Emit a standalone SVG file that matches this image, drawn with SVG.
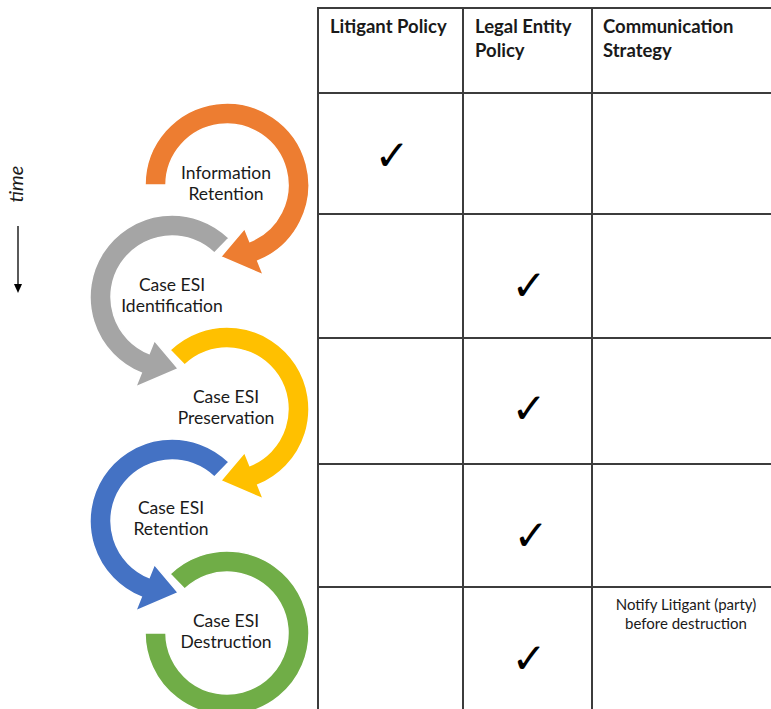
<svg xmlns="http://www.w3.org/2000/svg" width="771" height="709" viewBox="0 0 771 709">
  <style>
    .grid { stroke: #3c3c3c; stroke-width: 2; fill: none; }
    .hdr { font-family: Lato, "Open Sans", sans-serif; font-weight: bold; font-size: 18.5px; fill: #1a1a1a; }
    .lbl { font-family: Lato, "Open Sans", sans-serif; font-size: 17.5px; fill: #1a1a1a; text-anchor: middle; }
    .note { font-family: Lato, "Open Sans", sans-serif; font-size: 15px; fill: #1a1a1a; text-anchor: middle; }
    .tick { font-family: "DejaVu Sans", sans-serif; font-size: 42px; fill: #000; text-anchor: middle; }
    .ring { stroke: #fff; stroke-width: 1.5; }
  </style>
  <defs>
    <!-- block arcs drawn around (0,0): outer r 82, inner r 61, arrowhead flared to r 47..97 -->
    <path id="arcFirst" d="M -82 0 A 82 82 0 1 1 30.72 76.03 L 36.34 89.94 L -6.27 71.73 L 17.61 43.58 L 22.85 56.56 A 61 61 0 1 0 -61 0 Z"/>
    <path id="arcMid" d="M -56.96 -58.98 A 82 82 0 1 1 30.72 76.03 L 36.34 89.94 L -6.27 71.73 L 17.61 43.58 L 22.85 56.56 A 61 61 0 1 0 -42.38 -43.88 Z"/>
    <path id="arcLast" d="M -56.96 -58.98 A 82 82 0 1 1 -82 0 L -61 0 A 61 61 0 1 0 -42.38 -43.88 Z"/>
  </defs>

  <rect width="771" height="709" fill="#fff"/>

  <!-- time axis -->
  <g id="time">
    <text transform="translate(23,184) rotate(-90)" text-anchor="middle" font-family="Lato, sans-serif" font-style="italic" font-size="20" fill="#1a1a1a">time</text>
    <line x1="18" y1="226" x2="18" y2="287" stroke="#000" stroke-width="1.3"/>
    <path d="M14 284 L22 284 L18 293 Z" fill="#000"/>
  </g>

  <!-- process steps -->
  <g id="step-information-retention">
    <use href="#arcFirst" transform="translate(227,185)" fill="#ED7D31" class="ring"/>
    <text class="lbl" x="226" y="179">Information</text>
    <text class="lbl" x="226" y="200">Retention</text>
  </g>
  <g id="step-identification">
    <use href="#arcMid" transform="translate(172,297) scale(-1,1)" fill="#A5A5A5" class="ring"/>
    <text class="lbl" x="172" y="291">Case ESI</text>
    <text class="lbl" x="172" y="312">Identification</text>
  </g>
  <g id="step-preservation">
    <use href="#arcMid" transform="translate(227,409)" fill="#FFC000" class="ring"/>
    <text class="lbl" x="226" y="403">Case ESI</text>
    <text class="lbl" x="226" y="424">Preservation</text>
  </g>
  <g id="step-retention">
    <use href="#arcMid" transform="translate(172,521) scale(-1,1)" fill="#4472C4" class="ring"/>
    <text class="lbl" x="171" y="514">Case ESI</text>
    <text class="lbl" x="171" y="535">Retention</text>
  </g>
  <g id="step-destruction">
    <use href="#arcLast" transform="translate(227,633)" fill="#70AD47" class="ring"/>
    <text class="lbl" x="226" y="627">Case ESI</text>
    <text class="lbl" x="226" y="648">Destruction</text>
  </g>

  <!-- policy table -->
  <g id="table">
    <line class="grid" x1="318" y1="8" x2="771" y2="8"/>
    <line class="grid" x1="318" y1="93" x2="771" y2="93"/>
    <line class="grid" x1="318" y1="214" x2="771" y2="214"/>
    <line class="grid" x1="318" y1="338" x2="771" y2="338"/>
    <line class="grid" x1="318" y1="464" x2="771" y2="464"/>
    <line class="grid" x1="318" y1="587" x2="771" y2="587"/>
    <line class="grid" x1="318" y1="7" x2="318" y2="709"/>
    <line class="grid" x1="463" y1="7" x2="463" y2="709"/>
    <line class="grid" x1="592" y1="7" x2="592" y2="709"/>

    <text class="hdr" x="330" y="33">Litigant Policy</text>
    <text class="hdr" x="475" y="33">Legal Entity</text>
    <text class="hdr" x="475" y="57">Policy</text>
    <text class="hdr" x="603" y="33">Communication</text>
    <text class="hdr" x="603" y="57">Strategy</text>

    <text class="tick" x="392" y="170">✓</text>
    <text class="tick" x="529" y="300">✓</text>
    <text class="tick" x="529" y="423">✓</text>
    <text class="tick" x="531" y="550">✓</text>
    <text class="tick" x="529" y="673">✓</text>

    <text class="note" x="686" y="610">Notify Litigant (party)</text>
    <text class="note" x="686" y="629">before destruction</text>
  </g>
</svg>
